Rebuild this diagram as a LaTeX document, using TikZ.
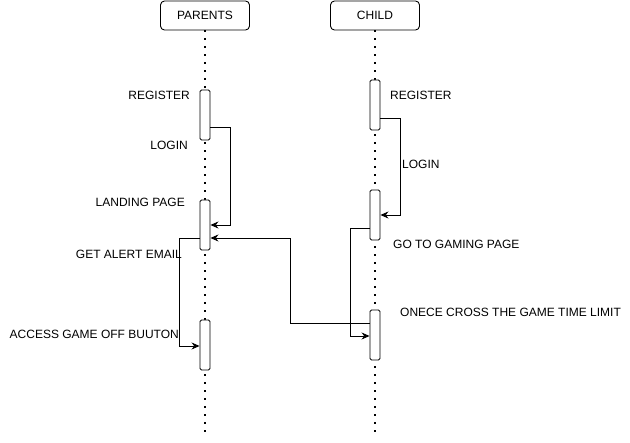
\documentclass[tikz,border=0pt]{standalone}
\usepackage{fontspec}
\setmainfont{Liberation Sans}
\usetikzlibrary{arrows.meta}

\tikzset{
  head/.style={draw, line width=0.9pt, rounded corners=4pt, minimum width=89pt, minimum height=29pt, inner sep=0pt},
  act/.style={draw, line width=0.9pt, fill=white, rounded corners=1.5pt, minimum width=10pt, minimum height=50pt, inner sep=0pt},
  life/.style={line width=1.6pt, dash pattern=on 1.6pt off 6.4pt},
  msg/.style={line width=0.9pt, -{Stealth[length=8pt,width=7pt]}},
  lbl/.style={inner sep=0pt, font=\fontsize{12}{14}\selectfont}
}

\begin{document}
\begin{tikzpicture}[x=1pt, y=-1pt]
      \useasboundingbox (0,0) rectangle (630,443);
      % heads
      \node[head, lbl] (parent) at (205,15.5) {PARENTS};
      \node[head, lbl] (child) at (375,15.5) {CHILD};
      \coordinate (pEnd) at (205,438);
      \coordinate (cEnd) at (375,438);
      \draw [life] (parent.south) -- (pEnd);
      \draw [life] (child.south) -- (cEnd);
      % activations
      \node[act] (pReg) at (205,115) {};
      \node[act] (pLand) at (205,225) {};
      \node[act] (pAcc) at (205,345) {};
      \node[act] (cReg) at (375,105) {};
      \node[act] (cLogin) at (375,215) {};
      \node[act] (cLim) at (375,335) {};
      % messages
      \draw [msg] ([yshift=13pt]pReg.south east) -- ++(20,0) |- (pLand.east);
      \draw [msg] ([yshift=12pt]cLim.west) -- ++(-79,0) |- ([yshift=-13pt]pLand.east);
      \draw [msg] ([yshift=-13pt]pLand.west) -- ++(-20,0) |- ([yshift=-1pt]pAcc.west);
      \draw [msg] ([yshift=12pt]cReg.south east) -- ++(20,0) |- (cLogin.east);
      \draw [msg] ([yshift=-13pt]cLogin.west) -- ++(-19,0) |- ([yshift=-1pt]cLim.west);
      % labels
      \node[lbl, anchor=east] (tpReg) at (190,95) {REGISTER};
      \node[lbl, anchor=east] (tpLogin) at (188,145) {LOGIN};
      \node[lbl, anchor=east] (tpLand) at (185,202) {LANDING PAGE};
      \node[lbl, anchor=east] (tpAlert) at (182,254) {GET ALERT EMAIL};
      \node[lbl, anchor=east] (tpAcc) at (179,334) {ACCESS GAME OFF BUUTON};
      \node[lbl, anchor=west] (tcReg) at (390,95) {REGISTER};
      \node[lbl, anchor=west] (tcLogin) at (402,164) {LOGIN};
      \node[lbl, anchor=west] (tcGame) at (393,244) {GO TO GAMING PAGE};
      \node[lbl, anchor=west] (tcLim) at (400,312) {ONECE CROSS THE GAME TIME LIMIT};
    \end{tikzpicture}
\end{document}
